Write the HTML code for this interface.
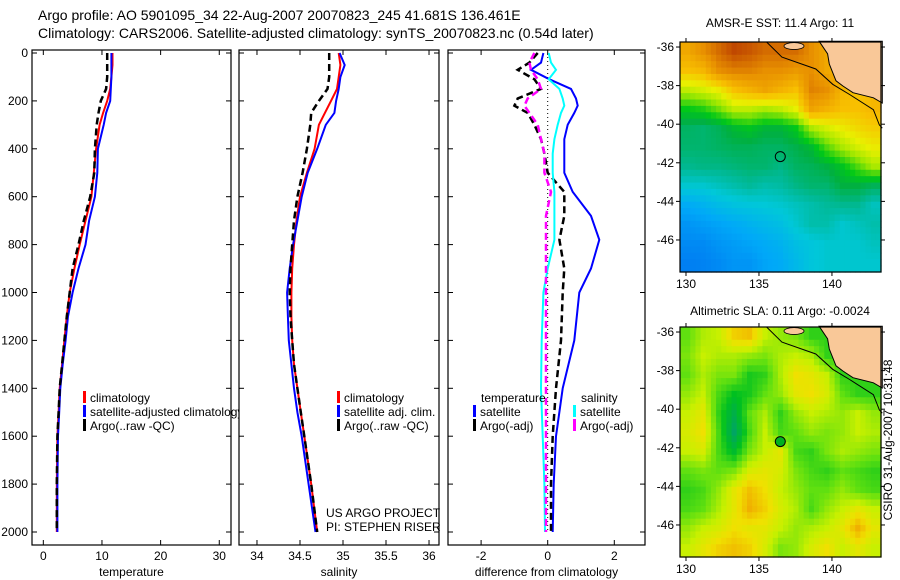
<!DOCTYPE html>
<html><head><meta charset="utf-8"><style>
html,body{margin:0;padding:0;background:#fff;}
svg{display:block;font-family:"Liberation Sans",sans-serif;}
text{fill:#000;}
</style></head><body>
<svg id="fig" width="900" height="580" xmlns="http://www.w3.org/2000/svg">
<text x="38" y="20" font-size="14">Argo profile: AO 5901095_34 22-Aug-2007 20070823_245 41.681S 136.461E</text>
<text x="38" y="38" font-size="14">Climatology: CARS2006. Satellite-adjusted climatology: synTS_20070823.nc (0.54d later)</text>
<text x="780" y="27" font-size="12" text-anchor="middle">AMSR-E SST: 11.4  Argo: 11</text>
<text x="780" y="315" font-size="12" text-anchor="middle">Altimetric SLA: 0.11  Argo: -0.0024</text>
<text transform="translate(892,440) rotate(-90)" font-size="12" text-anchor="middle">CSIRO 31-Aug-2007 10:31:48</text>
<g id="plots"></g>
</svg>
<script>
// ---- profile data ----
const depthLevels = [0,50,100,150,200,250,300,400,500,600,700,800,900,1000,1100,1200,1300,1400,1500,1600,1800,2000];
const tempClim = [11.8,11.8,11.6,11.4,10.9,10.2,9.6,9.0,8.6,8.2,7.2,6.2,5.3,4.5,4.0,3.6,3.2,2.8,2.6,2.4,2.3,2.3];
const tempSat  = [11.6,11.6,11.6,11.5,11.4,10.7,10.3,9.3,9.2,8.8,7.8,7.2,6.0,5.0,4.2,3.8,3.3,2.9,2.7,2.5,2.4,2.4];
const tempArgo = [10.9,10.9,10.9,10.7,9.8,9.4,9.1,8.8,8.7,8.0,6.9,6.0,5.0,4.5,4.0,3.6,3.2,2.8,2.6,2.4,2.3,2.3];
const salClim = [34.95,34.97,34.95,34.93,34.86,34.79,34.72,34.67,34.58,34.50,34.46,34.43,34.41,34.40,34.40,34.41,34.43,34.47,34.51,34.55,34.63,34.70];
const salSat  = [34.96,35.02,34.97,34.95,34.92,34.90,34.80,34.70,34.59,34.52,34.47,34.42,34.38,34.35,34.36,34.37,34.40,34.43,34.47,34.52,34.60,34.68];
const salArgo = [34.84,34.84,34.84,34.82,34.72,34.63,34.62,34.58,34.53,34.47,34.43,34.41,34.39,34.38,34.39,34.41,34.43,34.47,34.51,34.55,34.63,34.70];
const diffDepths = [0,40,70,110,150,190,220,250,300,360,420,500,580,680,780,900,1000,1200,1400,1600,1800,2000];
const diffTempSat  = [-0.13,-0.2,-0.5,0.05,0.7,0.85,0.9,0.8,0.6,0.5,0.5,0.5,0.75,1.3,1.55,1.3,0.95,0.8,0.45,0.25,0.18,0.15];
const diffTempArgo = [-0.3,-0.55,-0.9,-0.4,-0.2,-0.9,-1.0,-0.6,-0.4,-0.2,-0.1,0.0,0.5,0.5,0.35,0.5,0.45,0.4,0.25,0.15,0.1,0.1];
const diffSalSat   = [0.03,0.1,0.25,0.03,0.35,0.45,0.5,0.4,0.3,0.2,0.15,0.15,0.2,0.2,0.2,0.0,-0.13,-0.18,-0.2,-0.15,-0.1,-0.08];
const diffSalArgo  = [-0.4,-0.55,-0.5,-0.3,-0.2,-0.6,-0.7,-0.55,-0.3,-0.2,-0.1,-0.1,0.1,-0.05,-0.05,-0.05,-0.05,-0.05,-0.05,-0.05,-0.05,-0.05];
const depthTicks = [0,200,400,600,800,1000,1200,1400,1600,1800,2000];
const tempTicks = [0,10,20,30];
const salTicks = [34,34.5,35,35.5,36];
const diffTicks = [-2,0,2];
// ---- map data (values 0..1, -1 = land) ----
const sstGrid = [
[.75,.8,.85,.9,.88,.85,.85,.85,.8,.75,-1,-1,-1],
[.7,.72,.8,.82,.82,.8,.8,.78,.8,.75,.72,-1,-1],
[.58,.6,.63,.7,.73,.76,.73,.7,.82,.8,.72,.7,-1],
[.45,.47,.52,.58,.58,.56,.58,.62,.76,.73,.7,.7,.72],
[.37,.36,.38,.42,.44,.41,.41,.45,.56,.6,.63,.66,.68],
[.36,.36,.37,.38,.38,.37,.37,.39,.42,.5,.56,.6,.63],
[.33,.34,.34,.35,.36,.36,.34,.37,.38,.4,.44,.5,.56],
[.26,.26,.28,.3,.32,.3,.31,.34,.36,.36,.4,.4,.38],
[.16,.18,.21,.23,.24,.25,.26,.28,.3,.32,.33,.33,.28],
[.1,.12,.14,.16,.18,.2,.22,.26,.3,.3,.26,.28,.3],
[.07,.07,.1,.12,.14,.16,.18,.22,.24,.26,.26,.26,.28],
[.04,.05,.07,.1,.1,.14,.16,.2,.24,.26,.26,.26,.26]];
const slaGrid = [
[.5,.65,.7,.9,.95,.7,.6,.55,.4,.4,-1,-1,-1],
[.55,.7,.65,.65,.6,.55,.65,.7,.65,.4,.4,-1,-1],
[.5,.65,.55,.55,.35,.4,.65,.85,.8,.7,.4,.4,-1],
[.6,.7,.45,.3,.35,.5,.6,.8,.85,.75,.5,.4,.4],
[.7,.8,.4,.15,.5,.65,.4,.6,.7,.65,.6,.7,.6],
[.75,.85,.45,.05,.45,.7,.45,.5,.6,.55,.6,.7,.65],
[.7,.75,.45,.25,.55,.7,.8,.45,.4,.55,.65,.6,.55],
[.5,.55,.5,.55,.75,.8,.75,.55,.45,.4,.5,.45,.4],
[.4,.45,.6,.8,.95,.85,.7,.6,.5,.5,.6,.5,.45],
[.45,.5,.65,.8,1,.9,.75,.65,.45,.6,.7,.8,.7],
[.6,.7,.75,.85,.8,.8,.7,.6,.65,.7,.8,1,.8],
[.7,.8,.9,.95,.9,.75,.55,.6,.75,.85,.7,.8,.7]];
const lonTicks = [130,135,140];
const latTicks = [-36,-38,-40,-42,-44,-46];
const argoLon = 136.46, argoLat = -41.68;
const coastLon = [139.12,139.70,139.82,140.28,140.75,141.44,142.84,143.45,143.45];
const coastLat = [-35.7,-36.35,-36.88,-37.75,-38.02,-38.37,-38.63,-38.9,-35.7];
const contourLon = [135.52,136.57,138.89,140.05,141.21,142.84,143.25,143.45];
const contourLat = [-35.74,-36.52,-37.14,-37.93,-38.46,-39.25,-40.04,-40.2];

const NS='http://www.w3.org/2000/svg';
const root=document.getElementById('plots');
function mk(tag,attrs,parent){const e=document.createElementNS(NS,tag);for(const k in attrs)e.setAttribute(k,attrs[k]);(parent||root).appendChild(e);return e;}
function txt(x,y,s,size,anchor,parent){const t=mk('text',{x:x,y:y,'font-size':size,'text-anchor':anchor||'start'},parent);t.textContent=s;return t;}

const Y0=50,Y1=545;
const yScale=d=>53+d*0.2395;

function panel(name,x0,x1,vmin,vmax,ticks,label,showDepth){
  const g=mk('g',{});
  
  
  const xs=v=>x0+(v-vmin)/(vmax-vmin)*(x1-x0);
  const box=mk('rect',{x:x0,y:Y0,width:x1-x0,height:Y1-Y0,fill:'#fff',stroke:'#000','stroke-width':1.2},g);
  
  
  ticks.forEach(t=>{const x=xs(t);
    mk('line',{x1:x,x2:x,y1:Y1,y2:Y1-5,stroke:'#000'},g);
    mk('line',{x1:x,x2:x,y1:Y0,y2:Y0+5,stroke:'#000'},g);
    const tl=txt(x,560,String(t),12,'middle',g);
    
    
  });
  depthTicks.forEach(d=>{const y=yScale(d);
    mk('line',{x1:x0,x2:x0+5,y1:y,y2:y,stroke:'#000'},g);
    mk('line',{x1:x1,x2:x1-5,y1:y,y2:y,stroke:'#000'},g);
    if(showDepth){const tl=txt(28,y+4,String(d),12,'end',g);
      
      }
  });
  const al=txt((x0+x1)/2,576,label,12,'middle',g);
  
  
  return {g,xs};
}
function line(p,depths,vals,color,dash,w,nm){
  const pts=vals.map((v,i)=>p.xs(v).toFixed(1)+','+yScale(depths[i]).toFixed(1)).join(' ');
  const l=mk('polyline',{points:pts,fill:'none',stroke:color,'stroke-width':w||2,'stroke-dasharray':dash||'none'},p.g);
  
  
}
function legend(p,x,y,color,label,nm){
  const m=mk('rect',{x:x,y:y-7,width:3,height:12,fill:color},p.g);
  
  
  const t=txt(x+7,y+4,label,12,'start',p.g);
  
  
}

const p1=panel('temperature-panel',32,231,-1.93,32,tempTicks,'temperature',true);
line(p1,depthLevels,tempClim,'#f00','none',2,'temp-climatology-line');
line(p1,depthLevels,tempSat,'#00f','none',2,'temp-satellite-line');
line(p1,depthLevels,tempArgo,'#000','7,4',2.5,'temp-argo-line');
legend(p1,83,398,'#f00','climatology','legend-climatology');
legend(p1,83,412,'#00f','satellite-adjusted climatology','legend-satellite-adjusted');
legend(p1,83,426,'#000','Argo(..raw -QC)','legend-argo');

const p2=panel('salinity-panel',239,439,33.791,36.116,salTicks,'salinity',false);
line(p2,depthLevels,salClim,'#f00','none',2,'sal-climatology-line');
line(p2,depthLevels,salSat,'#00f','none',2,'sal-satellite-line');
line(p2,depthLevels,salArgo,'#000','7,4',2.5,'sal-argo-line');
legend(p2,337,398,'#f00','climatology','legend-sal-climatology');
legend(p2,337,412,'#00f','satellite adj. clim.','legend-sal-satellite');
legend(p2,337,426,'#000','Argo(..raw -QC)','legend-sal-argo');
const c1=txt(326,517,'US ARGO PROJECT',12,'start',p2.g);


const c2=txt(326,531,'PI: STEPHEN RISER',12,'start',p2.g);



const p3=panel('difference-panel',448,645,-2.994,2.922,diffTicks,'difference from climatology',false);
const zl=mk('line',{x1:p3.xs(0),x2:p3.xs(0),y1:yScale(0),y2:yScale(2000),stroke:'#000','stroke-dasharray':'1,3'},p3.g);


line(p3,diffDepths,diffTempSat,'#00f','none',2,'diff-temp-satellite-line');
line(p3,diffDepths,diffTempArgo,'#000','7,4',2.5,'diff-temp-argo-line');
line(p3,diffDepths,diffSalSat,'#0ff','none',2,'diff-sal-satellite-line');
line(p3,diffDepths,diffSalArgo,'#f0f','7,4',2.5,'diff-sal-argo-line');
const h1=txt(481,402,'temperature',12,'start',p3.g);


const h2=txt(581,402,'salinity',12,'start',p3.g);


legend(p3,473,412,'#00f','satellite','legend-diff-temp-satellite');
legend(p3,473,426,'#000','Argo(-adj)','legend-diff-temp-argo');
legend(p3,573,412,'#0ff','satellite','legend-diff-sal-satellite');
legend(p3,573,426,'#f0f','Argo(-adj)','legend-diff-sal-argo');

// ---- maps ----
const sstStops=[[0,[0,112,240]],[.15,[0,168,248]],[.25,[0,200,216]],[.33,[0,184,144]],[.4,[0,176,64]],[.45,[0,200,24]],[.55,[160,232,0]],[.62,[232,240,0]],[.7,[248,192,0]],[.8,[232,144,0]],[.9,[192,72,0]]];
const slaStops=[[0,[0,160,112]],[.3,[0,192,32]],[.5,[96,224,16]],[.7,[200,240,0]],[.85,[240,224,0]],[1,[240,176,0]]];
function ramp(stops,v){for(let i=1;i<stops.length;i++){if(v<=stops[i][0]){const a=stops[i-1],b=stops[i];const t=(v-a[0])/(b[0]-a[0]);return 'rgb('+a[1].map((c,k)=>Math.round(c+(b[1][k]-c)*t)).join(',')+')';}}return 'rgb('+stops[stops.length-1][1].join(',')+')';}
function mapPanel(name,top,grid,stops){
  const x0=680,x1=881,y0=top,y1=top+230;
  const lonMin=129.59,lonMax=143.36,latTop=-35.74,latBot=-47.66;
  const lx=l=>x0+(l-lonMin)/(lonMax-lonMin)*(x1-x0);
  const ly=l=>y0+(latTop-l)/(latTop-latBot)*(y1-y0);
  const g=mk('g',{});
  
  
  const R=grid.length,C=grid[0].length,S=3;
  const cw=(x1-x0)/(C*S),ch=(y1-y0)/(R*S);
  const val=(r,c)=>{r=Math.max(0,Math.min(R-1,r));c=Math.max(0,Math.min(C-1,c));const v=grid[r][c];return v<0?null:v;};
  for(let i=0;i<R*S;i++)for(let j=0;j<C*S;j++){
    const fr=(i+0.5)/S-0.5,fc=(j+0.5)/S-0.5;
    const r0=Math.floor(fr),c0=Math.floor(fc),tr=fr-r0,tc=fc-c0;
    let s=0,w=0;
    [[r0,c0,(1-tr)*(1-tc)],[r0+1,c0,tr*(1-tc)],[r0,c0+1,(1-tr)*tc],[r0+1,c0+1,tr*tc]].forEach(q=>{const v=val(q[0],q[1]);if(v!==null){s+=v*q[2];w+=q[2];}});
    const v=w>0?s/w:0.5;
    const cell=mk('rect',{x:(x0+j*cw).toFixed(2),y:(y0+i*ch).toFixed(2),width:(cw+0.6).toFixed(2),height:(ch+0.6).toFixed(2),fill:ramp(stops,v)},g);
    
    
  }
  const land=mk('polygon',{points:coastLon.map((l,i)=>lx(l).toFixed(1)+','+ly(coastLat[i]).toFixed(1)).join(' '),fill:'#f9c898',stroke:'#000','stroke-width':1},g);
  
  
  const isl=mk('ellipse',{cx:lx(137.4),cy:ly(-35.95),rx:10,ry:3.5,fill:'#f9c898',stroke:'#000','stroke-width':0.8},g);
  
  
  const ct=mk('polyline',{points:contourLon.map((l,i)=>lx(l).toFixed(1)+','+ly(contourLat[i]).toFixed(1)).join(' '),fill:'none',stroke:'#000','stroke-width':1},g);
  
  
  const fr=mk('rect',{x:x0,y:y0,width:x1-x0,height:y1-y0,fill:'none',stroke:'#000','stroke-width':1.2},g);
  
  
  lonTicks.forEach(l=>{const x=lx(l);mk('line',{x1:x,x2:x,y1:y1,y2:y1+4,stroke:'#000'},g);mk('line',{x1:x,x2:x,y1:y0,y2:y0-4,stroke:'#000'},g);
    const t=txt(x,y1+16,String(l),12,'middle',g);
    
    });
  latTicks.forEach(l=>{const y=ly(l);mk('line',{x1:x0,x2:x0-4,y1:y,y2:y,stroke:'#000'},g);mk('line',{x1:x1,x2:x1+4,y1:y,y2:y,stroke:'#000'},g);
    const t=txt(x0-6,y+4,String(l),12,'end',g);
    
    });
  const m=mk('circle',{cx:lx(argoLon),cy:ly(argoLat),r:5,fill:name==='sla-map'?'#00b020':'none',stroke:'#000','stroke-width':1},g);
  
  
}
mapPanel('sst-map',42,sstGrid,sstStops);
mapPanel('sla-map',327,slaGrid,slaStops);
</script>
</body></html>
